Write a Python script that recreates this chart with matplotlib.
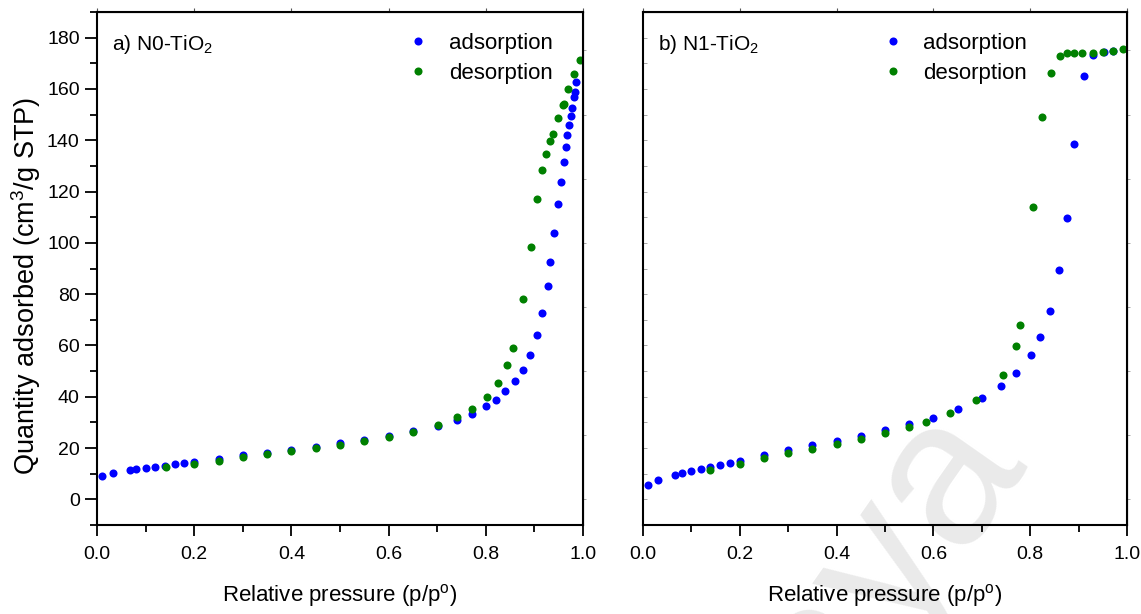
import numpy as np
import matplotlib
matplotlib.use('Agg')
import matplotlib.pyplot as plt
from matplotlib.ticker import MultipleLocator

plt.rcParams['font.family'] = ['Liberation Sans', 'DejaVu Sans']
plt.rcParams['mathtext.default'] = 'regular'

# ---- data ----
# a) N0-TiO2
a_ads_x = [0.011, 0.032, 0.067, 0.080, 0.100, 0.120, 0.140, 0.160, 0.180, 0.200,
           0.250, 0.300, 0.350, 0.400, 0.450, 0.500, 0.550, 0.600, 0.651, 0.701,
           0.740, 0.771, 0.801, 0.821, 0.840, 0.860, 0.876, 0.891, 0.906, 0.916,
           0.927, 0.933, 0.940, 0.948, 0.954, 0.960, 0.964, 0.968, 0.972, 0.975,
           0.977, 0.981, 0.983, 0.986]
a_ads_y = [9.2, 10.2, 11.5, 11.8, 12.2, 12.7, 13.0, 13.6, 14.1, 14.7,
           15.9, 17.1, 18.2, 19.3, 20.5, 21.9, 23.2, 24.8, 26.5, 28.6,
           30.9, 33.3, 36.2, 38.8, 42.1, 46.2, 50.6, 56.3, 64.2, 72.5,
           83.0, 92.7, 104.0, 115.2, 123.9, 131.5, 137.3, 141.9, 145.9, 149.6,
           152.6, 156.9, 158.7, 162.9]
a_des_x = [0.994, 0.981, 0.970, 0.961, 0.959, 0.949, 0.938, 0.932, 0.923, 0.915,
           0.906, 0.893, 0.877, 0.856, 0.843, 0.825, 0.802, 0.771, 0.741, 0.701,
           0.651, 0.600, 0.550, 0.500, 0.450, 0.400, 0.350, 0.300, 0.250, 0.200,
           0.141]
a_des_y = [171.1, 165.9, 159.8, 154.3, 153.6, 148.5, 142.5, 139.6, 134.7, 128.3,
           117.1, 98.3, 78.3, 59.2, 52.3, 45.3, 39.9, 35.2, 32.3, 29.1,
           26.3, 24.2, 22.6, 21.3, 19.9, 18.7, 17.6, 16.4, 15.1, 13.9,
           12.7]

# b) N1-TiO2
b_ads_x = [0.010, 0.032, 0.067, 0.080, 0.100, 0.120, 0.139, 0.159, 0.180, 0.200,
           0.250, 0.300, 0.350, 0.400, 0.450, 0.500, 0.550, 0.600, 0.650, 0.700,
           0.740, 0.771, 0.801, 0.821, 0.841, 0.860, 0.875, 0.891, 0.911, 0.930,
           0.952, 0.971]
b_ads_y = [5.7, 7.5, 9.5, 10.1, 10.9, 11.8, 12.7, 13.5, 14.2, 15.0,
           17.1, 19.1, 21.0, 22.6, 24.6, 26.9, 29.2, 31.8, 35.2, 39.5,
           44.2, 49.2, 56.3, 63.3, 73.4, 89.3, 109.6, 138.6, 165.2, 173.4,
           174.6, 174.9]
b_des_x = [0.992, 0.971, 0.951, 0.929, 0.906, 0.890, 0.876, 0.861, 0.844, 0.825,
           0.806, 0.779, 0.770, 0.744, 0.688, 0.634, 0.584, 0.550, 0.500, 0.450,
           0.400, 0.350, 0.300, 0.250, 0.200, 0.139]
b_des_y = [175.4, 174.9, 174.6, 174.2, 174.2, 174.0, 173.9, 173.0, 166.2, 149.0,
           113.9, 68.1, 59.6, 48.3, 38.7, 33.6, 30.1, 28.3, 25.8, 23.7,
           21.6, 19.7, 17.9, 16.1, 13.9, 11.5]

titles = ['a) N0-TiO$_2$', 'b) N1-TiO$_2$']
series = [(a_ads_x, a_ads_y, a_des_x, a_des_y), (b_ads_x, b_ads_y, b_des_x, b_des_y)]
legend_x = [0.647, 0.502]

W, H = 1141, 614
fig = plt.figure(figsize=(W / 100, H / 100), dpi=100)

# faint watermark behind everything
fig.text(1022 / W, 1 - 452 / H, 'Malaya', fontsize=150, color='#eaeaea', rotation=55,
         rotation_mode='anchor', ha='right', va='baseline', zorder=-5)

ax1 = fig.add_axes([97 / W, 1 - 525 / H, 486 / W, 513 / H])
ax2 = fig.add_axes([643 / W, 1 - 525 / H, 484 / W, 513 / H])

for ax, title, lx, (ax_x, ax_y, dx, dy) in zip([ax1, ax2], titles, legend_x, series):
    ax.set_facecolor('none')
    ax.plot(ax_x, ax_y, 'o', color='#0000ff', ms=5.8, mec='none', label='adsorption')
    ax.plot(dx, dy, 'o', color='#008000', ms=5.8, mec='none', label='desorption')
    ax.set_xlim(0, 1.0)
    ax.set_ylim(-10, 190)
    ax.xaxis.set_major_locator(MultipleLocator(0.2))
    ax.xaxis.set_minor_locator(MultipleLocator(0.1))
    ax.yaxis.set_major_locator(MultipleLocator(20))
    ax.yaxis.set_minor_locator(MultipleLocator(10))
    ax.set_xticks(np.arange(0, 1.01, 0.2))
    ax.set_xticklabels(['0.0', '0.2', '0.4', '0.6', '0.8', '1.0'])
    for s in ax.spines.values():
        s.set_linewidth(1.5)
    ax.set_xlabel('Relative pressure (p/p$^o$)', fontsize=16)
    ax.xaxis.set_label_coords(0.5, -0.112)
    ax.text(0.030, 0.926, title, transform=ax.transAxes, fontsize=15, va='baseline')
    ax.legend(loc='upper left', bbox_to_anchor=(lx, 0.959), frameon=False,
              fontsize=16, borderpad=0, borderaxespad=0, handlelength=0.6,
              handletextpad=1.08, labelspacing=0.4)

    # short faint ticks on the top and right edges
    ax.secondary_xaxis('top').tick_params(which='both', length=3, width=0.8,
                                          labeltop=False, color='#555555')
    ax.secondary_yaxis('right').tick_params(which='both', length=2, width=0.6,
                                            labelright=False, color='#999999')
    ax.xaxis.set_ticks_position('bottom')
    ax.yaxis.set_ticks_position('left')
    ax.tick_params(axis='x', which='major', direction='out', length=8, width=1.3,
                   labelsize=14, pad=7)
    ax.tick_params(axis='x', which='minor', direction='out', length=5, width=1.3)

ax1.tick_params(axis='y', which='major', direction='out', length=9, width=1.3,
                labelsize=14)
ax1.tick_params(axis='y', which='minor', direction='out', length=5, width=1.3)
ax1.set_ylabel('Quantity adsorbed (cm$^3$/g STP)', fontsize=19.5)
ax1.yaxis.set_label_coords(-0.112, 0.466)

ax2.tick_params(axis='y', which='both', direction='in', length=3, width=0.6,
                color='#999999', labelleft=False)

fig.savefig('out.png', dpi=100)
